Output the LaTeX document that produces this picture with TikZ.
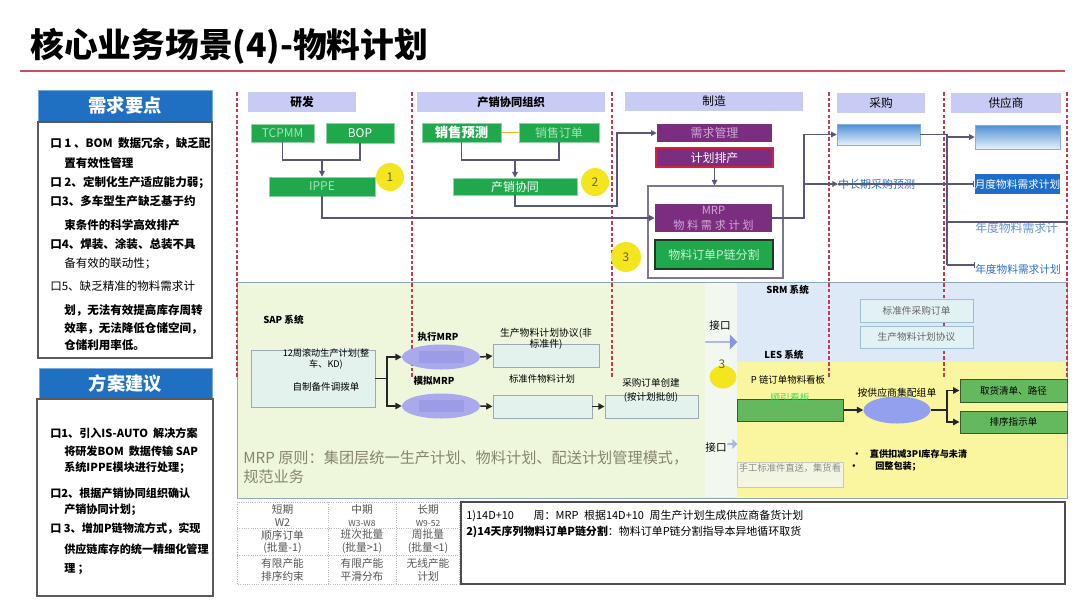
\documentclass[tikz,border=0pt]{standalone}
\usepackage{fontspec}
\setmainfont{Noto Sans CJK SC}
\usetikzlibrary{arrows.meta,shapes.geometric,shapes.arrows}
\newcommand{\fsz}[2]{\fontsize{#1}{#2}\selectfont}
\definecolor{rulered}{HTML}{C8505E}
\definecolor{headblue}{HTML}{1F6FC3}
\definecolor{laneblue}{HTML}{C8CBF3}
\definecolor{lanered}{HTML}{C03C50}
\definecolor{boxgreen}{HTML}{1FA84C}
\definecolor{fadegreen}{HTML}{A8E4BC}
\definecolor{boxpurple}{HTML}{7B2D7F}
\definecolor{fadepurple}{HTML}{CFA9D3}
\definecolor{planred}{HTML}{D8203C}
\definecolor{darkgreen}{HTML}{1E3A22}
\definecolor{palegreen}{HTML}{C9F0D2}
\definecolor{linkgray}{HTML}{585876}
\definecolor{hilite}{HTML}{F3E61E}
\definecolor{markertext}{HTML}{6E6420}
\definecolor{skyedge}{HTML}{4E8ED6}
\definecolor{skypale}{HTML}{E6F2FA}
\definecolor{monthblue}{HTML}{1C6ECA}
\definecolor{textblue}{HTML}{2E6FC0}
\definecolor{sapgreen}{HTML}{EEF7DC}
\definecolor{portwhite}{HTML}{F2F8EF}
\definecolor{srmblue}{HTML}{DDE9F6}
\definecolor{lesyellow}{HTML}{FAF6A0}
\definecolor{regionedge}{HTML}{8EA6B6}
\definecolor{paleteal}{HTML}{E4F2EE}
\definecolor{edgegray}{HTML}{9AA9B5}
\definecolor{mrpviolet}{HTML}{A9A9EC}
\definecolor{mrpdeep}{HTML}{9C9CE6}
\definecolor{groupviolet}{HTML}{93A0EE}
\definecolor{srmbox}{HTML}{E2F1F4}
\definecolor{srmedge}{HTML}{9DBFD0}
\definecolor{portblue}{HTML}{8A97E0}
\definecolor{lesgreen}{HTML}{64B95E}
\definecolor{brightgreen}{HTML}{3CD85A}
\definecolor{manualfill}{HTML}{F3F5E3}
\definecolor{manualedge}{HTML}{C9CBB8}
\definecolor{olivegray}{HTML}{86866C}
\definecolor{orangeline}{HTML}{F2B233}
\definecolor{tablerule}{HTML}{B8B8B8}
\definecolor{celltext}{HTML}{555555}
\tikzset{
  px/.style 2 args={minimum width=#1*0.025cm, minimum height=#2*0.025cm},
  title text/.style={anchor=west, inner sep=0pt, font=\bfseries\fsz{24}{27}},
  title rule/.style={draw=rulered, line width=1.6pt},
  side head/.style={fill=headblue, draw=headblue!60!white, line width=0.6pt,
    text=white, inner sep=0pt, font=\bfseries\fsz{13}{15}},
  side panel/.style={draw=black!65, fill=white, line width=0.8pt, inner sep=0pt},
  side text/.style={anchor=west, inner sep=0pt, font=\bfseries\fsz{8.2}{10}},
  lane head/.style={fill=laneblue, inner sep=0pt, font=\fsz{8.3}{10}},
  lane line/.style={draw=lanered, line width=0.8pt, dash pattern=on 2.5pt off 1.5pt},
  green box/.style={fill=boxgreen, draw=boxgreen!50!white, line width=0.6pt,
    inner sep=0pt, text=white, font=\fsz{8.5}{10}},
  purple box/.style={fill=boxpurple, inner sep=0pt, text=white, font=\fsz{8.5}{10}},
  sky box/.style={top color=skyedge, bottom color=skypale, draw=skyedge!70!white, inner sep=0pt},
  link/.style={draw=linkgray, line width=0.8pt},
  link arrow/.style={link, -{Triangle[length=4pt,width=4pt]}},
  link tick/.style={link, -{Bar[width=4pt]}},
  marker/.style={circle, fill=hilite, inner sep=0pt, text=markertext, font=\fsz{8.5}{10}},
  pale box/.style={fill=paleteal, draw=edgegray, line width=0.6pt, inner sep=0pt},
  mrp oval/.style={ellipse, fill=mrpviolet, inner sep=0pt,
    path picture={\fill[mrpdeep] ([xshift=-16pt,yshift=-4.3pt]path picture bounding box.center)
      rectangle ([xshift=16pt,yshift=4.3pt]path picture bounding box.center);}},
  group oval/.style={ellipse, fill=groupviolet, inner sep=0pt},
  flow/.style={draw=black!85, line width=1.1pt},
  flow arrow/.style={flow, -{Triangle[length=4.5pt,width=4.5pt]}},
  note/.style={inner sep=0pt, font=\fsz{6.7}{8.5}},
  bold note/.style={note, font=\bfseries\fsz{6.8}{8.5}},
  srm box/.style={fill=srmbox, draw=srmedge, line width=0.6pt, inner sep=0pt,
    text=black!60, font=\fsz{6.9}{8.5}},
  les box/.style={fill=lesgreen, draw=lesgreen!50!black, line width=0.7pt,
    inner sep=0pt, font=\fsz{6.8}{8.5}},
  port arrow/.style={single arrow, fill=portblue, inner sep=0pt, single arrow head extend=2pt},
  table rule/.style={draw=tablerule, line width=0.6pt, densely dotted},
  cell/.style={inner sep=0pt, align=center, text=celltext, font=\fsz{7.6}{9.2}},
}

\begin{document}
\begin{tikzpicture}[x=0.025cm, y=-0.025cm]
\useasboundingbox (0,0) rectangle (1080,608);
\fill[white] (0,0) rectangle (1080,608);

\node[title text] (title) at (30,46) {核心业务场景(4)-物料计划};
\draw[title rule] (20,71) -- (1065,71);

% left panels
\node[side head, px={174}{31}] (needhead) at (125,105.5) {需求要点};
\node[side panel, px={174}{236}] (needpanel) at (125,240) {};
\foreach \xx/\yy/\tx [count=\i] in {
  50/143/{口 1 、BOM~~数据冗余，缺乏配},
  64/163/{置有效性管理},
  50/183/{口 2、定制化生产适应能力弱；},
  50/201/{口3、多车型生产缺乏基于约},
  64/225/{束条件的科学高效排产},
  50/244/{口4、焊装、涂装、总装不具},
  64/264/{\mdseries 备有效的联动性；},
  50/286/{\mdseries 口5、缺乏精准的物料需求计},
  64/310/{划，无法有效提高库存周转},
  64/328/{效率，无法降低仓储空间，},
  64/345/{仓储利用率低。}}
  \node[side text] (need\i) at (\xx,\yy) {\tx};

\node[side head, px={173}{31}] (planhead) at (125.5,383.5) {方案建议};
\node[side panel, px={176}{197}] (planpanel) at (125,497.5) {};
\foreach \xx/\yy/\tx [count=\i] in {
  50/433/{口1、引入IS-AUTO~~解决方案},
  64/451/{将研发BOM~~数据传输 SAP},
  64/468/{系统IPPE模块进行处理；},
  50/493/{口2、根据产销协同组织确认},
  64/510/{产销协同计划；},
  50/529/{口 3、增加P链物流方式，实现},
  64/549/{供应链库存的统一精细化管理},
  64/569/{理 ；}}
  \node[side text, font=\bfseries\fsz{7.9}{9}] (idea\i) at (\xx,\yy) {\tx};

% system regions
\fill[sapgreen] (237,282) rectangle (1067,498);
\fill[portwhite] (705,283) rectangle (737,497);
\fill[srmblue] (737,283) rectangle (1066,362);
\fill[lesyellow] (737,362) rectangle (1066,497);
\draw[regionedge, line width=0.7pt] (237,282) rectangle (1067,498);

\foreach \xx in {237,412,612,829,944,1067}
  \draw[lane line] (\xx,92) -- (\xx,378);

% lanes
\node[lane head, px={108}{20}, font=\bfseries\fsz{8.3}{10}] (rdhead) at (302,102) {研发};
\node[lane head, px={188}{20}, font=\bfseries\fsz{8}{10}] (sophead) at (511,102) {产销协同组织};
\node[lane head, px={178}{19}] (mfghead) at (714,101.5) {制造};
\node[lane head, px={88}{20}] (buyhead) at (881,103) {采购};
\node[lane head, px={110}{20}] (suphead) at (1006,103) {供应商};

\node[green box, px={63}{18}, text=fadegreen] (tcpmm) at (282.5,133) {TCPMM};
\node[green box, px={68}{20}] (bop) at (360,133) {BOP};
\node[green box, px={106}{19}, text=fadegreen] (ippe) at (322,186.5) {IPPE};
\node[marker, minimum size=28*0.025cm] (mark1) at (390,177) {1};

\node[green box, px={79}{19}, font=\bfseries\fsz{9.5}{10}] (saleplan) at (461.5,132.5) {销售预测};
\node[green box, px={80}{19}, text=fadegreen] (saleorder) at (559,132.5) {销售订单};
\node[green box, px={124}{17}] (sopsync) at (515,186.5) {产销协同};
\node[marker, minimum size=28*0.025cm] (mark2) at (595,182) {2};

\node[purple box, px={115}{18}, text=fadepurple] (demand) at (714.5,133) {需求管理};
\node[purple box, px={117}{19}, draw=planred, line width=0.8pt] (schedule) at (714.5,157.5) {计划排产};
\node[draw=linkgray!80, line width=0.8pt, px={135}{92}, inner sep=0pt] (mfgframe) at (715.5,232) {};
\node[purple box, px={117}{28}, text=fadepurple, align=center, font=\fsz{8}{10.5}] (mrp) at (713.5,218)
  {MRP\\物~料~需~求~计~划};
\node[green box, px={118}{29}, draw=darkgreen, line width=1pt, text=palegreen] (psplit) at (714,254.5)
  {物料订单P链分割};
\node[marker, minimum size=30*0.025cm] (mark3) at (626,257) {3};

\node[sky box, px={83}{21}] (buyplan) at (878.5,134.5) {};
\node[sky box, px={85}{24}] (supplan) at (1017.5,137) {};
\node[fill=monthblue, px={85}{20}, inner sep=0pt, text=white, font=\fsz{7.6}{9}] (monthly) at (1017.5,184)
  {月度物料需求计划};
\node[anchor=west, inner sep=0pt, text=textblue, font=\fsz{7.8}{9}] (forecast) at (838,184) {中长期采购预测};
\node[anchor=west, inner sep=0pt, text=textblue!75, font=\fsz{8.4}{10}] (yearA) at (975,228) {年度物料需求计};
\node[anchor=west, inner sep=0pt, text=textblue, font=\fsz{7.6}{9}] (yearB) at (975,269) {年度物料需求计划};

\coordinate (rdjoin) at (322,160);
\coordinate (sopjoin) at (515,160);
\coordinate (sopjog) at (617,206);
\coordinate (mrpfork) at (804,184);
\coordinate (buyfork) at (947,134.5);
\coordinate (yearfork) at (947,222);
\coordinate (yearend) at (1067,222);
\coordinate (trunkend) at (947,265);

\draw[link] (tcpmm.south) |- (rdjoin) -| (bop.south);
\draw[link arrow] (rdjoin) -- (ippe.north);
\draw[link] (saleplan.south) |- (sopjoin) -| (saleorder.south);
\draw[link arrow] (sopjoin) -- (sopsync.north);
\draw[orangeline, line width=1pt] (saleplan.east) -- (saleorder.west);
\draw[link arrow] (ippe.south) |- (mrp.west);
\draw[link arrow] (sopsync.south) |- (sopjog) |- (demand.west);
\draw[link arrow] (schedule.south) -- (schedule.south |- mfgframe.north);
\draw[link arrow] (mrp.east) -| (mrpfork) |- (buyplan.west);
\draw[link arrow] (mrpfork) -- (forecast.west);
\draw[link tick] (forecast.west) -- (monthly.west);
\draw[link] (buyplan.east) -- (buyfork) -- (trunkend);
\draw[link arrow] (buyfork) |- (supplan.west);
\draw[link] (yearfork) -- (yearend);
\draw[link tick] (trunkend) -- (trunkend -| yearB.west);

% SAP
\node[bold note, anchor=west] (saplabel) at (263,320) {SAP 系统};
\node[pale box, px={124}{57}] (plan12) at (313,378.5) {};
\node[note, align=center, font=\fsz{6.5}{8.5}] (plan12a) at (326,359) {12周滚动生产计划(整\\车、KD)};
\node[note, font=\fsz{6.8}{8.5}] (plan12b) at (326,387) {自制备件调拨单};
\node[mrp oval, px={78}{25}] (execmrp) at (441,357) {};
\node[mrp oval, px={78}{25}] (simmrp) at (441,406) {};
\node[bold note] (execlabel) at (438,337) {执行MRP};
\node[bold note] (simlabel) at (434,381) {模拟MRP};
\node[pale box, px={106}{23}] (npa) at (546,356) {};
\node[note, align=center, font=\fsz{7}{8}] (npalabel) at (546,339) {生产物料计划协议(非\\标准件)};
\node[pale box, px={99}{23}] (stdplan) at (542.5,406.5) {};
\node[note] (stdlabel) at (542,379) {标准件物料计划};
\node[pale box, px={93}{23}] (pocreate) at (651.5,406.5) {};
\node[note, align=center, font=\fsz{6.8}{10}] (pocreatelabel) at (651,390) {采购订单创建\\(按计划批创)};

\coordinate (sapfork) at (387,378.5);
\draw[flow] (plan12.east) -- (sapfork);
\draw[flow arrow] (sapfork) |- (execmrp.west);
\draw[flow arrow] (sapfork) |- (simmrp.west);
\draw[flow arrow] (execmrp.east) -- (npa.west);
\draw[flow arrow] (simmrp.east) -- (stdplan.west);
\draw[flow arrow] (stdplan.east) -- (pocreate.west);

\node[anchor=west, inner sep=0pt, text=olivegray, font=\fsz{10.8}{13}] (ruleA) at (243,458)
  {MRP 原则：集团层统一生产计划、物料计划、配送计划管理模式，};
\node[anchor=west, inner sep=0pt, text=olivegray, font=\fsz{10.8}{13}] (ruleB) at (243,477) {规范业务};

% SRM
\node[bold note, anchor=west] (srmlabel) at (766,290) {SRM 系统};
\node[srm box, px={113}{23}] (stdpo) at (916.5,310.5) {标准件采购订单};
\node[srm box, px={113}{22}] (prodpa) at (916.5,337) {生产物料计划协议};
\node[note, font=\fsz{7.5}{9}] (srmportlabel) at (720,325) {接口};
\node[port arrow, minimum height=32*0.025cm, minimum width=15*0.025cm] (srmport) at (721,342) {};

% LES
\node[bold note, anchor=west] (leslabel) at (764,355) {LES 系统};
\node[ellipse, fill=hilite, px={27}{23}] (mark3b) at (723,377) {};
\node[note, font=\fsz{8.5}{10}, text=markertext] (mark3btext) at (722,364) {3};
\node[note] (kanbanlabel) at (788,380) {P 链订单物料看板};
\node[les box, px={106}{22}] (lesbox) at (790,410) {};
\node[note, text=brightgreen, font=\fsz{7}{8.5}] (seqkanban) at (790,398) {顺引看板};
\node[group oval, px={67}{27}] (grp) at (897,410) {};
\node[note, font=\fsz{7}{8.5}] (grplabel) at (897,393) {按供应商集配组单};
\node[les box, px={107}{23}] (pick) at (1013.5,390.5) {取货清单、路径};
\node[les box, px={107}{22}] (seq) at (1013.5,422) {排序指示单};
\coordinate (lesfork) at (947,410);
\draw[flow arrow] (lesbox.east) -- (grp.west);
\draw[flow] (grp.east) -- (lesfork);
\draw[flow arrow] (lesfork) |- (pick.west);
\draw[flow arrow] (lesfork) |- (seq.west);

\node[bold note, anchor=west, font=\bfseries\fsz{6.5}{8}] (bulletA) at (852,454) {·\hspace{6pt}直供扣减3PI库存与未清};
\node[bold note, anchor=west, font=\bfseries\fsz{6.5}{8}] (bulletB) at (849,466) {·\hspace{12pt}回整包装；};
\node[note, font=\fsz{7.5}{9}] (lesportlabel) at (716,447) {接口};
\node[port arrow, fill=portblue!70, minimum height=10*0.025cm, minimum width=10*0.025cm,
  single arrow head extend=1pt] (lesport) at (732,444) {};
\node[fill=manualfill, draw=manualedge, px={106}{25}, inner sep=0pt] (manual) at (790,474.5) {};
\node[note, text=black!45, font=\fsz{6.6}{8}] (manuallabel) at (790,468) {手工标准件直送，集货看};

% horizon table
\draw[table rule] (237,502) rectangle (459,584);
\draw[table rule] (328,502) -- (328,584) (396,502) -- (396,584)
  (237,528) -- (459,528) (237,555) -- (459,555);
\foreach \cx/\cy/\tx [count=\i] in {
  282.5/515.5/{短期\\W2}, 362/515.5/{中期\\{\fsz{6}{8}W3-W8}}, 428/515.5/{长期\\{\fsz{6}{8}W9-52}},
  282.5/542/{顺序订单\\(批量-1)}, 362/542/{班次批量\\(批量>1)}, 428/542/{周批量\\(批量<1)},
  282.5/570/{有限产能\\排序约束}, 362/570/{有限产能\\平滑分布}, 428/570/{无线产能\\计划}}
  \node[cell] (cell\i) at (\cx,\cy) {\tx};

\node[draw=black!70, line width=0.9pt, px={604}{82}, inner sep=0pt] (notebox) at (763,543) {};
\node[anchor=west, inner sep=0pt, font=\fsz{7.8}{9}] (noteA) at (466,516)
  {1)14D+10\hspace{14pt}周：MRP\hspace{4pt}根据14D+10\hspace{4pt}周生产计划生成供应商备货计划};
\node[anchor=west, inner sep=0pt, font=\fsz{7.8}{9}] (noteB) at (466,532)
  {\textbf{2)14天序列物料订单P链分割}：物料订单P链分割指导本异地循环取货};
\end{tikzpicture}
\end{document}
